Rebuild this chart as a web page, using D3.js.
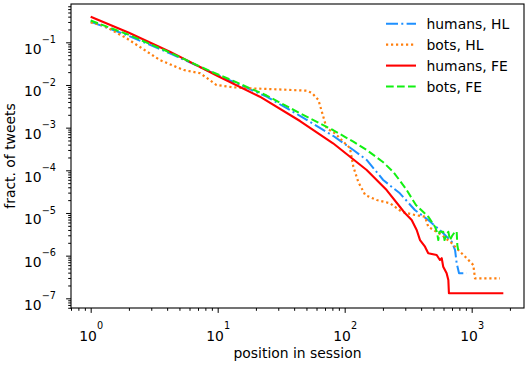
<!DOCTYPE html>
<html>
<head>
<meta charset="utf-8">
<script src="https://cdn.jsdelivr.net/npm/d3@7"></script>
<style>
body { margin: 0; background: #fff; }
svg { display: block; font-family: "DejaVu Sans", sans-serif; }
</style>
</head>
<body>
<svg id="chart" width="529" height="366"></svg>
<script>
// position in session (x) and fraction of tweets (y)
const humansHLPos = [1, 1.92, 4.2, 8.7, 13.2, 24.3, 44.5, 81, 117, 149, 201, 272, 357, 455, 581, 697, 740, 762, 795, 914];
const humansHLFrac = [0.304, 0.148, 0.0552, 0.0205, 0.0119, 0.00531, 0.00189, 6.44e-4, 2.99e-4, 1.75e-4, 5.93e-5, 2.89e-5, 1.175e-5, 6.84e-6, 3.64e-6, 2.12e-6, 1.355e-6, 6.6e-7, 3.85e-7, 3.85e-7];

const botsHLPos = [1, 1.26, 1.92, 3.5, 5.4, 7.3, 9.8, 13.3, 17.9, 29.2, 50.2, 55.3, 62.1, 67.9, 72.1, 83.9, 97.5, 110, 117, 128, 145, 179, 228, 281, 357, 429, 455, 581, 697, 809, 914, 1030, 1062, 1671];
const botsHLFrac = [0.291, 0.248, 0.124, 0.0385, 0.0224, 0.0188, 0.00998, 0.00881, 0.00835, 0.00791, 0.00734, 0.00649, 0.00445, 0.0018, 9.64e-4, 7.36e-4, 4.68e-4, 3.33e-4, 1.21e-4, 5.32e-5, 2.64e-5, 2.01e-5, 1.69e-5, 1.07e-5, 8.96e-6, 8.18e-6, 4.77e-6, 3.05e-6, 1.95e-6, 1.24e-6, 8.67e-7, 6.04e-7, 2.94e-7, 2.94e-7];

const humansFEPos = [1, 2, 4.2, 10, 21.5, 44.5, 81, 149, 214, 272, 299, 337, 369, 392, 429, 455, 530, 562, 581, 597, 635, 655, 662, 1775];
const humansFEFrac = [0.398, 0.168, 0.0603, 0.0162, 0.00531, 0.00143, 4.30e-4, 1.016e-4, 3.45e-5, 1.40e-5, 9.8e-6, 6.84e-6, 3.99e-6, 2.32e-6, 1.62e-6, 1.135e-6, 1.035e-6, 7.9e-7, 8.7e-7, 5.5e-7, 3.85e-7, 2.69e-7, 1.31e-7, 1.31e-7];

const botsFEPos = [1, 1.92, 4.2, 8.7, 13.3, 24.3, 44.5, 81, 117, 149, 200, 242, 304, 364, 455, 514, 533, 546, 557, 597, 611, 628, 655, 675, 700, 740, 762, 771, 783];
const botsFEFrac = [0.324, 0.157, 0.0577, 0.0212, 0.0124, 0.00566, 0.00217, 8.8e-4, 4.68e-4, 2.99e-4, 1.57e-4, 9.1e-5, 3.65e-5, 1.54e-5, 8.2e-6, 4.77e-6, 3.58e-6, 2.32e-6, 3.64e-6, 3.64e-6, 2.32e-6, 2.88e-6, 3.64e-6, 2.32e-6, 2.88e-6, 3.64e-6, 3.64e-6, 1.77e-6, 1.355e-6];

const seriesNames = ["humans, HL", "bots, HL", "humans, FE", "bots, FE"];
const xMajorTicks = [1, 10, 100, 1000];
const yMajorTicks = [1e-1, 1e-2, 1e-3, 1e-4, 1e-5, 1e-6, 1e-7];
const xTitle = "position in session";
const yTitle = "fract. of tweets";

const series = [
    { name: seriesNames[0], xs: humansHLPos, ys: humansHLFrac, color: "#1e90ff", dash: "12,3.3,2,3.3", width: 2 },
    { name: seriesNames[1], xs: botsHLPos, ys: botsHLFrac, color: "#ff7f0e", dash: "2.2,2.8", width: 2.2 },
    { name: seriesNames[2], xs: humansFEPos, ys: humansFEFrac, color: "#ff0000", dash: null, width: 2.1 },
    { name: seriesNames[3], xs: botsFEPos, ys: botsFEFrac, color: "#12f012", dash: "7.7,3.3", width: 2 }
];

const plot = { left: 71, right: 524, top: 4, bottom: 308 };
const fontSize = 13.9;

const svg = d3.select("#chart");

const x = d3.scaleLog()
    .domain([10 ** -0.155, 10 ** 3.412])
    .range([plot.left, plot.right]);
const y = d3.scaleLog()
    .domain([10 ** -7.227, 10 ** -0.102])
    .range([plot.bottom, plot.top]);

// minor ticks 2..9 inside each decade
function minorTicks(scale) {
    const [lo, hi] = scale.domain();
    const out = [];
    for (let e = Math.floor(Math.log10(lo)); e <= Math.ceil(Math.log10(hi)); e++) {
        for (let m = 2; m <= 9; m++) {
            const v = m * 10 ** e;
            if (v >= lo && v <= hi) out.push(v);
        }
    }
    return out;
}

function expLabel(v) {
    const e = Math.round(Math.log10(v));
    return e < 0 ? "\u2212" + (-e) : String(e);
}

// x axis
svg.append("g")
    .attr("transform", `translate(0,${plot.bottom})`)
    .call(d3.axisBottom(x).tickValues(minorTicks(x)).tickSize(2.8).tickFormat(""))
    .call(g => g.select(".domain").remove());

const xAxis = svg.append("g")
    .attr("transform", `translate(0,${plot.bottom})`)
    .call(d3.axisBottom(x).tickValues(xMajorTicks).tickSize(4.9))
    .call(g => g.select(".domain").remove());

xAxis.selectAll(".tick text").each(function (d) {
    const t = d3.select(this).text("")
        .attr("y", 32.5).attr("dy", null)
        .attr("text-anchor", "middle")
        .attr("fill", "#000")
        .style("font-size", fontSize + "px")
        .style("font-family", "DejaVu Sans");
    t.append("tspan").text("10");
    t.append("tspan").attr("dy", -11.5).style("font-size", "9.7px").text(expLabel(d));
});

// y axis
svg.append("g")
    .attr("transform", `translate(${plot.left},0)`)
    .call(d3.axisLeft(y).tickValues(minorTicks(y)).tickSize(2.8).tickFormat(""))
    .call(g => g.select(".domain").remove());

const yAxis = svg.append("g")
    .attr("transform", `translate(${plot.left},0)`)
    .call(d3.axisLeft(y).tickValues(yMajorTicks).tickSize(4.9))
    .call(g => g.select(".domain").remove());

yAxis.selectAll(".tick text").each(function (d) {
    const t = d3.select(this).text("")
        .attr("x", -15).attr("y", 10.7).attr("dy", null)
        .attr("text-anchor", "end")
        .attr("fill", "#000")
        .style("font-size", fontSize + "px")
        .style("font-family", "DejaVu Sans");
    t.append("tspan").text("10");
    t.append("tspan").attr("dy", -10.5).style("font-size", "9.7px").text(expLabel(d));
});

svg.selectAll(".tick line").attr("stroke", "#000").attr("stroke-width", 1);

// curves
const line = d3.line()
    .x(d => x(d[0]))
    .y(d => y(d[1]));

svg.append("g")
    .selectAll("path")
    .data(series)
    .join("path")
    .attr("d", s => line(d3.zip(s.xs, s.ys)))
    .attr("fill", "none")
    .attr("stroke", s => s.color)
    .attr("stroke-width", s => s.width)
    .attr("stroke-dasharray", s => s.dash)
    .attr("stroke-linejoin", "round");

// frame
svg.append("rect")
    .attr("x", plot.left)
    .attr("y", plot.top)
    .attr("width", plot.right - plot.left)
    .attr("height", plot.bottom - plot.top)
    .attr("fill", "none")
    .attr("stroke", "#000")
    .attr("stroke-width", 1.1);

// axis titles
svg.append("text")
    .attr("x", (plot.left + plot.right) / 2)
    .attr("y", 358)
    .attr("text-anchor", "middle")
    .style("font-size", fontSize + "px")
    .text(xTitle);

svg.append("text")
    .attr("transform", `translate(14.5,${(plot.top + plot.bottom) / 2}) rotate(-90)`)
    .attr("text-anchor", "middle")
    .style("font-size", fontSize + "px")
    .text(yTitle);

// legend
const legend = svg.append("g")
    .selectAll("g")
    .data(series)
    .join("g")
    .attr("transform", (d, i) => `translate(386,${23.8 + i * 20.9})`);

legend.append("line")
    .attr("x1", 0).attr("x2", 30)
    .attr("stroke", d => d.color)
    .attr("stroke-width", d => d.width)
    .attr("stroke-dasharray", d => d.dash);

legend.append("text")
    .attr("x", 40.5)
    .attr("y", 5)
    .style("font-size", fontSize + "px")
    .text(d => d.name);
</script>
</body>
</html>
